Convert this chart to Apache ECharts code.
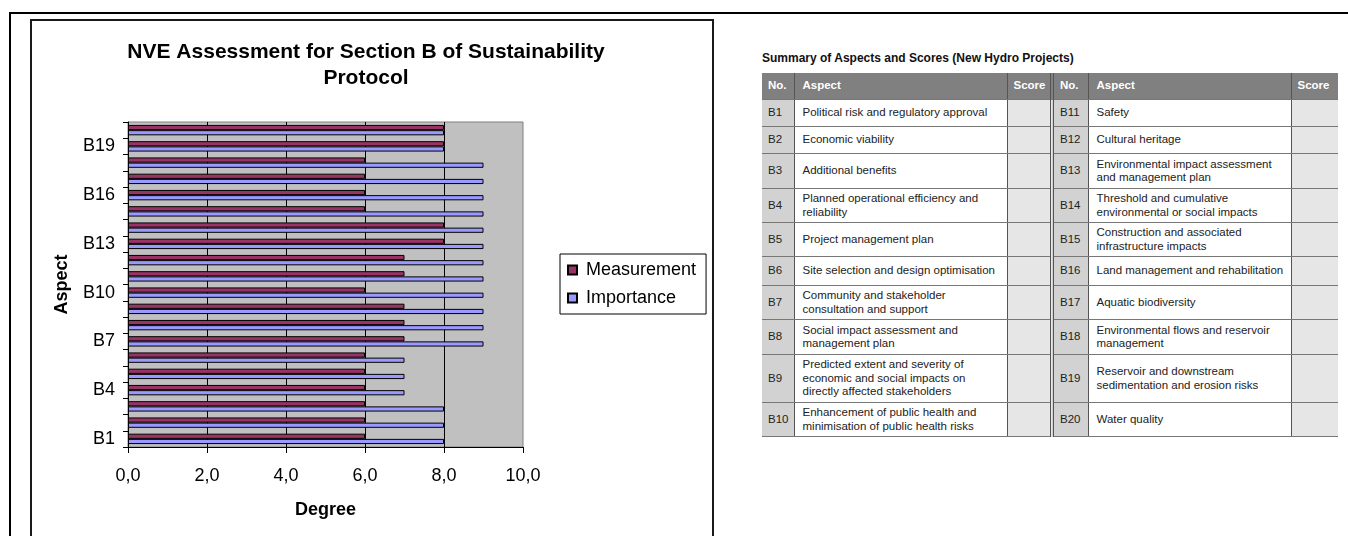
<!DOCTYPE html>
<html>
<head>
<meta charset="utf-8">
<title>NVE Assessment for Section B of Sustainability Protocol</title>
<script src="https://cdn.jsdelivr.net/npm/echarts@6/dist/echarts.min.js"></script>
<style>
  html, body { margin: 0; padding: 0; background: #fff; }
  body { width: 1348px; height: 536px; overflow: hidden; position: relative;
         font-family: "Liberation Sans", Arial, Helvetica, sans-serif; }
  #outer { position: absolute; left: 9px; top: 12px; width: 1400px; height: 600px;
           border-top: 2px solid #000; border-left: 2px solid #000; }
  #frame { position: absolute; left: 30px; top: 19px; width: 680px; height: 600px;
           border: 2px solid #1a1a1a; }
  #chart { position: absolute; left: 0; top: 0; width: 732px; height: 536px; }
  #summary { position: absolute; left: 762px; top: 51px; }
  #summary h3 { margin: 0 0 7px 0; font-size: 12px; font-weight: bold; color: #111; line-height: 15px; }
  #summary table { border-collapse: collapse; table-layout: fixed; font-size: 11.5px; color: #222; }
  #summary td, #summary th { padding: 0; vertical-align: middle; line-height: 13.5px;
                             border-bottom: 1px solid #777; }
  #summary th { background: #808080; color: #fff; font-weight: bold; text-align: left; height: 26px; }
  #summary td.no, #summary th.no { padding-left: 6px; }
  #summary td.no { background: #d2d2d2; }
  #summary td.asp, #summary th.asp { padding-left: 8px; padding-right: 4px; border-left: 1px solid #555; }
  #summary td.asp { background: #fff; }
  #summary td.sc, #summary th.sc { border-left: 1px solid #555; }
  #summary td.sc { background: #e6e6e6; }
  #summary th.sc { padding-left: 6px; }
  #summary .split { border-left: 4px double #555; }
</style>
</head>
<body>
<div id="outer"></div>
<div id="frame"></div>
<div id="chart"></div>
<div id="summary">
  <h3>Summary of Aspects and Scores (New Hydro Projects)</h3>
  <table id="aspectTable"></table>
</div>
<script>
// Aspect codes on the category axis
const categories = ['B1', 'B2', 'B3', 'B4', 'B5', 'B6', 'B7', 'B8', 'B9', 'B10',
                    'B11', 'B12', 'B13', 'B14', 'B15', 'B16', 'B17', 'B18', 'B19', 'B20'];
// Assessed degree per aspect
const measurement = [6, 6, 6, 6, 6, 6, 7, 7, 7, 6, 7, 7, 8, 8, 6, 6, 6, 6, 8, 8];
const importance  = [8, 8, 8, 7, 7, 7, 9, 9, 9, 9, 9, 9, 9, 9, 9, 9, 9, 9, 8, 8];
// Value axis ticks
const degreeTicks = [0, 2, 4, 6, 8, 10];

// Summary table content
const aspectNames = [
  'Political risk and regulatory approval',
  'Economic viability',
  'Additional benefits',
  'Planned operational efficiency and reliability',
  'Project management plan',
  'Site selection and design optimisation',
  'Community and stakeholder consultation and support',
  'Social impact assessment and management plan',
  'Predicted extent and severity of economic and social impacts on directly affected stakeholders',
  'Enhancement of public health and minimisation of public health risks',
  'Safety',
  'Cultural heritage',
  'Environmental impact assessment and management plan',
  'Threshold and cumulative environmental or social impacts',
  'Construction and associated infrastructure impacts',
  'Land management and rehabilitation',
  'Aquatic biodiversity',
  'Environmental flows and reservoir management',
  'Reservoir and downstream sedimentation and erosion risks',
  'Water quality'
];
const tableHeaders = ['No.', 'Aspect', 'Score'];
const rowHeights = [27, 27, 35, 34, 34, 29, 34, 35, 48, 34];

// Build the two-column-group summary table
(function buildTable() {
  const t = document.getElementById('aspectTable');
  const colW = [32, 213, 45, 36, 203, 47];
  let html = '<colgroup>' + colW.map(w => '<col style="width:' + w + 'px">').join('') + '</colgroup>';
  html += '<tr>' +
    '<th class="no">' + tableHeaders[0] + '</th><th class="asp">' + tableHeaders[1] + '</th><th class="sc">' + tableHeaders[2] + '</th>' +
    '<th class="no split">' + tableHeaders[0] + '</th><th class="asp">' + tableHeaders[1] + '</th><th class="sc">' + tableHeaders[2] + '</th></tr>';
  for (let i = 0; i < 10; i++) {
    html += '<tr style="height:' + rowHeights[i] + 'px">' +
      '<td class="no">' + categories[i] + '</td><td class="asp">' + aspectNames[i] + '</td><td class="sc"></td>' +
      '<td class="no split">' + categories[i + 10] + '</td><td class="asp">' + aspectNames[i + 10] + '</td><td class="sc"></td></tr>';
  }
  t.innerHTML = html;
})();

const FONT = '"Liberation Sans", Arial, Helvetica, sans-serif';
const chart = echarts.init(document.getElementById('chart'), null, { renderer: 'canvas' });

chart.setOption({
  animation: false,
  backgroundColor: 'transparent',
  title: {
    text: 'NVE Assessment for Section B of Sustainability\nProtocol',
    left: 'center',
    top: 39,
    padding: 0,
    textStyle: { fontFamily: FONT, fontSize: 21, fontWeight: 'bold', color: '#000', lineHeight: 26 }
  },
  legend: {
    data: ['Measurement', 'Importance'],
    orient: 'vertical',
    left: 560,
    top: 254,
    padding: [7, 10, 7, 7],
    itemWidth: 9,
    itemHeight: 9,
    itemGap: 10,
    borderColor: '#000',
    borderWidth: 1,
    icon: 'rect',
    textStyle: { fontFamily: FONT, fontSize: 18, color: '#000', lineHeight: 18, padding: [0, 0, 0, 4] }
  },
  grid: {
    left: 128,
    right: 209,
    top: 122,
    bottom: 89,
    show: true,
    backgroundColor: '#c0c0c0',
    borderColor: '#808080',
    borderWidth: 1,
    containLabel: false
  },
  xAxis: {
    type: 'value',
    min: degreeTicks[0],
    max: degreeTicks[degreeTicks.length - 1],
    interval: degreeTicks[1] - degreeTicks[0],
    name: 'Degree',
    nameLocation: 'middle',
    nameGap: 54,
    nameTextStyle: { fontFamily: FONT, fontSize: 18, fontWeight: 'bold', color: '#000' },
    axisLine: { show: true, lineStyle: { color: '#000', width: 1 } },
    axisTick: { show: true, inside: false, length: 6, lineStyle: { color: '#000' } },
    axisLabel: {
      margin: 20,
      fontFamily: FONT, fontSize: 18, color: '#000',
      formatter: v => v.toFixed(1).replace('.', ',')
    },
    splitLine: { show: true, showMinLine: false, showMaxLine: false, lineStyle: { color: '#000', width: 1 } }
  },
  yAxis: {
    type: 'category',
    data: categories,
    name: 'Aspect',
    nameLocation: 'middle',
    nameRotate: 90,
    nameGap: 57,
    nameTextStyle: { fontFamily: FONT, fontSize: 18, fontWeight: 'bold', color: '#000' },
    axisLine: { show: true, lineStyle: { color: '#000', width: 1 } },
    axisTick: { show: true, inside: false, length: 5, interval: 0, alignWithLabel: false, lineStyle: { color: '#000' } },
    axisLabel: { interval: 2, margin: 13, fontFamily: FONT, fontSize: 18, color: '#000' },
    splitLine: { show: false }
  },
  series: [
    {
      name: 'Measurement',
      type: 'bar',
      data: measurement,
      barGap: '0%',
      barCategoryGap: '36%',
      itemStyle: { color: '#993366', borderColor: '#000', borderWidth: 1 }
    },
    {
      name: 'Importance',
      type: 'bar',
      data: importance,
      barGap: '0%',
      barCategoryGap: '36%',
      itemStyle: { color: '#9999ff', borderColor: '#000', borderWidth: 1 }
    }
  ]
});
</script>
</body>
</html>
